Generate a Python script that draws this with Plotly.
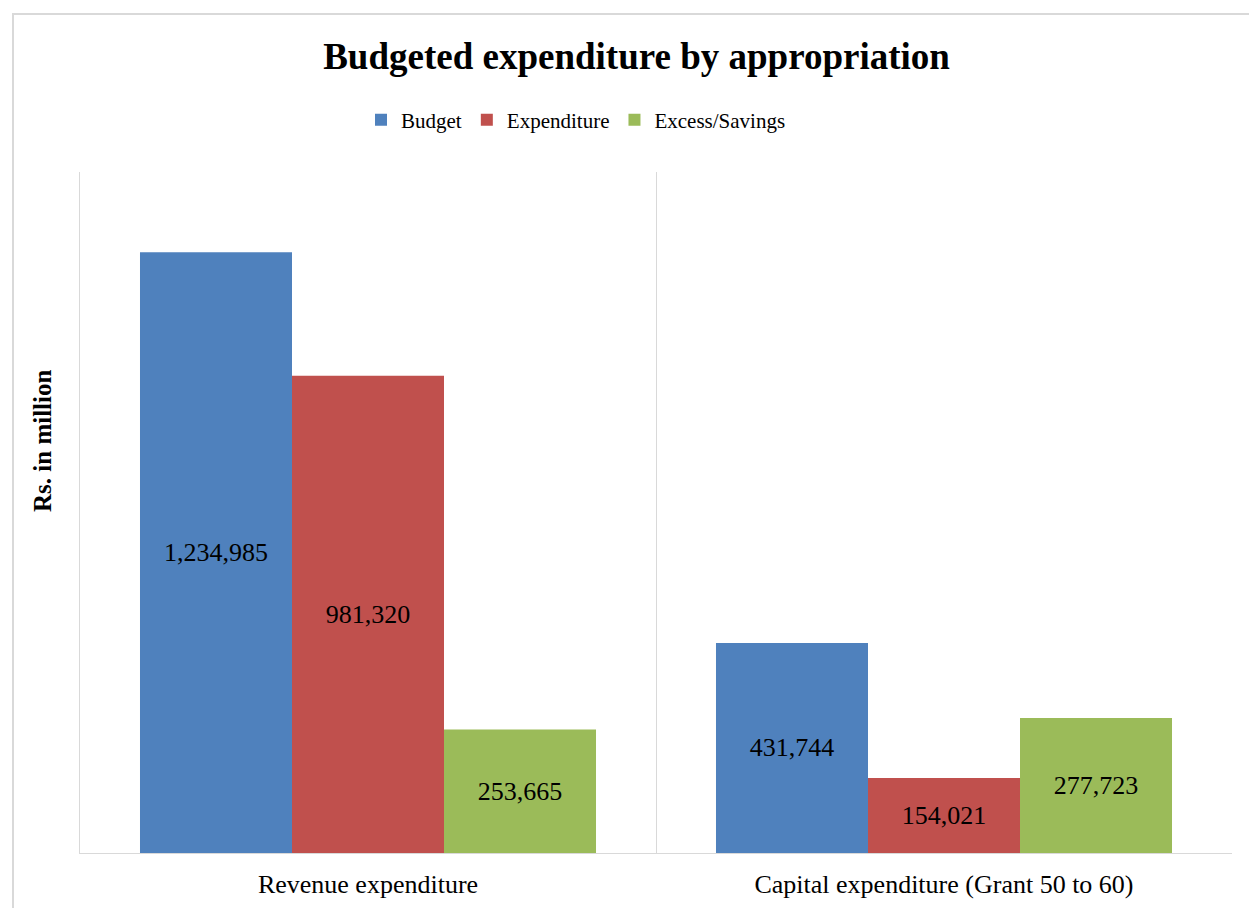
import plotly.graph_objects as go

categories = ["Revenue expenditure", "Capital expenditure (Grant 50 to 60)"]
budget = [1234985, 431744]
expenditure = [981320, 154021]
savings = [253665, 277723]

series_names = ["Budget", "Expenditure", "Excess/Savings"]
series_values = [budget, expenditure, savings]
series_colors = ["#4f81bd", "#c0504d", "#9bbb59"]

FONT = "Liberation Serif"

fig = go.Figure()
for name, vals, col in zip(series_names, series_values, series_colors):
    fig.add_trace(go.Bar(
        name=name, x=categories, y=vals,
        marker=dict(color=col, line=dict(width=0)),
        texttemplate="%{y:,.0f}", textposition="inside",
        insidetextanchor="middle", textangle=0,
        textfont=dict(family=FONT, size=26, color="black"),
        constraintext="none",
    ))

W, H = 1249, 908
L, R, T, B = 80, 17, 172, 55
pw, ph = W - L - R, H - T - B

def px_x(x):
    return (x - L) / pw

def px_y(y):
    return (H - B - y) / ph

fig.update_layout(
    width=W, height=H,
    margin=dict(l=L, r=R, t=T, b=B),
    paper_bgcolor="white", plot_bgcolor="white",
    font=dict(family=FONT, color="black"),
    barmode="group", bargap=0.2083, bargroupgap=0,
    title=dict(text="<b>Budgeted expenditure by appropriation</b>",
               x=636.5 / W, xanchor="center", y=1 - 56 / H, yanchor="middle",
               xref="container", yref="container",
               font=dict(family=FONT, size=37, color="black")),
    legend=dict(orientation="h", x=px_x(361), xanchor="left",
                y=px_y(120), yanchor="middle",
                font=dict(family=FONT, size=21, color="black"),
                itemwidth=30, bgcolor="rgba(0,0,0,0)"),
    showlegend=True,
)
fig.update_xaxes(
    type="category", tickson="boundaries", showgrid=True, gridcolor="#d9d9d9",
    gridwidth=1, showline=True, linecolor="#d9d9d9", linewidth=1,
    ticks="", ticklabelstandoff=8, automargin=False,
    tickfont=dict(family=FONT, size=26, color="black"),
)
fig.update_yaxes(
    range=[0, 1400000], showticklabels=False, showgrid=False,
    showline=True, linecolor="#d9d9d9", linewidth=1, ticks="", zeroline=False,
    automargin=False,
)
fig.add_annotation(
    text="<b>Rs. in million</b>", textangle=-90,
    x=px_x(42), y=px_y(441), xref="paper", yref="paper",
    xanchor="center", yanchor="middle", showarrow=False,
    font=dict(family=FONT, size=25, color="black"),
)
fig.add_shape(
    type="rect", xref="paper", yref="paper",
    x0=px_x(13), x1=px_x(1260), y0=px_y(920), y1=px_y(14),
    line=dict(color="#d9d9d9", width=2), fillcolor="rgba(0,0,0,0)", layer="below",
)

fig.write_html("out.html")
